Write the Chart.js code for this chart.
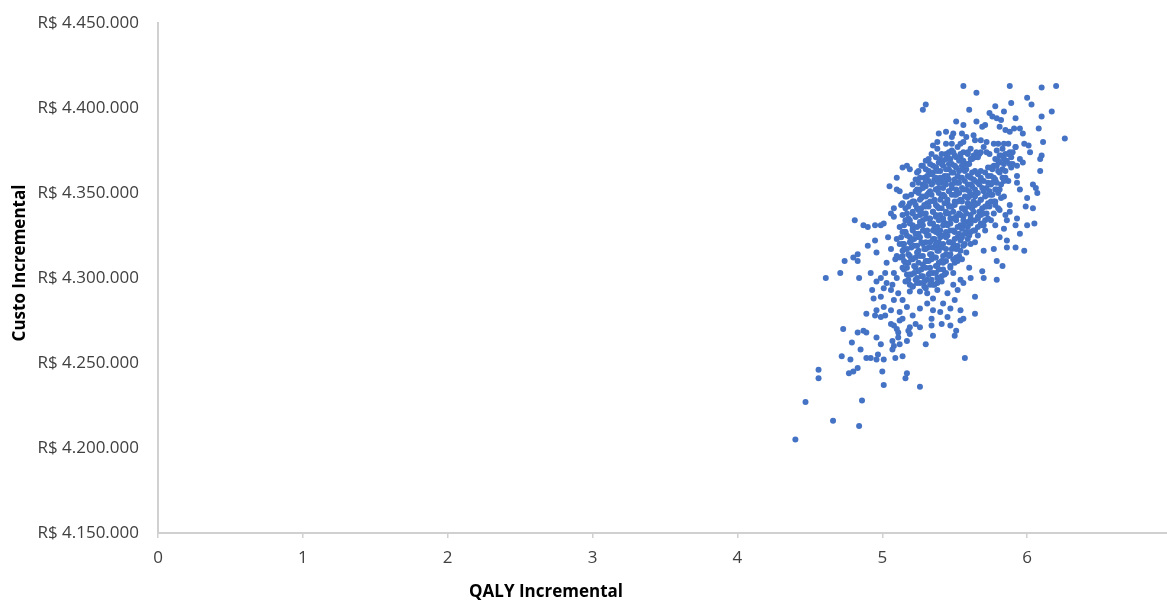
<!DOCTYPE html>
<html lang="pt-BR">
<head>
<meta charset="utf-8">
<title>Custo incremental x QALY incremental</title>
<script src="https://cdn.jsdelivr.net/npm/chart.js@4.4.1/dist/chart.umd.min.js"></script>
<style>
  html, body { margin: 0; padding: 0; background: #fff; overflow: hidden; }
  #grafico { display: block; }
</style>
</head>
<body>
<canvas id="grafico" width="1180" height="600"></canvas>
<script>
// Simulações da análise probabilística: [QALY incremental, custo incremental em milhares de R$]
const simulacoes = [
  // núcleo denso da nuvem
  [5.38,4376],[5.44,4373],[5.48,4375],[5.52,4377],[5.56,4374],[5.61,4376],[5.65,4374],[5.70,4377],[5.74,4373],[5.79,4375],[5.83,4376],[5.88,4374],[5.92,4377],
  [5.41,4373],[5.46,4374],[5.50,4372],[5.54,4373],[5.59,4374],[5.63,4372],[5.67,4373],[5.72,4374],[5.81,4372],[5.85,4373],[5.90,4374],
  [5.34,4373],[5.40,4370],[5.45,4372],[5.49,4374],[5.54,4371],[5.59,4373],[5.64,4371],[5.68,4374],[5.78,4370],[5.82,4372],[5.87,4373],
  [5.32,4370],[5.37,4371],[5.42,4369],[5.47,4370],[5.51,4371],[5.56,4369],[5.61,4370],[5.66,4371],[5.80,4369],[5.84,4370],[5.89,4371],
  [5.30,4369],[5.35,4366],[5.39,4368],[5.44,4370],[5.48,4367],[5.53,4369],[5.57,4367],[5.62,4370],[5.77,4366],[5.81,4368],[5.86,4369],[5.90,4367],
  [5.28,4366],[5.33,4367],[5.37,4365],[5.42,4366],[5.46,4367],[5.51,4365],[5.55,4366],[5.60,4367],[5.75,4365],[5.79,4366],[5.84,4367],[5.89,4365],
  [5.27,4366],[5.32,4363],[5.37,4365],[5.41,4367],[5.46,4364],[5.50,4366],[5.55,4364],[5.59,4367],[5.64,4363],[5.73,4365],[5.78,4366],[5.83,4364],[5.88,4367],
  [5.25,4363],[5.30,4364],[5.35,4362],[5.40,4363],[5.44,4364],[5.49,4362],[5.53,4363],[5.58,4364],[5.62,4362],[5.68,4363],[5.76,4364],[5.81,4362],[5.85,4363],
  [5.24,4362],[5.29,4359],[5.34,4361],[5.38,4363],[5.43,4360],[5.48,4362],[5.52,4360],[5.57,4363],[5.61,4359],[5.66,4361],[5.71,4362],[5.75,4360],[5.80,4363],[5.85,4359],
  [5.26,4359],[5.31,4360],[5.36,4358],[5.40,4359],[5.45,4360],[5.50,4358],[5.54,4359],[5.59,4360],[5.63,4358],[5.68,4359],[5.73,4360],[5.78,4358],[5.83,4359],
  [5.23,4358],[5.28,4355],[5.32,4357],[5.37,4359],[5.41,4356],[5.46,4358],[5.50,4356],[5.55,4359],[5.59,4355],[5.64,4357],[5.68,4358],[5.73,4356],[5.77,4359],[5.82,4355],[5.87,4357],
  [5.25,4356],[5.30,4357],[5.34,4355],[5.39,4356],[5.43,4357],[5.48,4355],[5.52,4356],[5.57,4357],[5.61,4355],[5.66,4356],[5.70,4357],[5.75,4355],[5.79,4356],[5.84,4357],
  [5.21,4355],[5.26,4352],[5.30,4354],[5.35,4356],[5.39,4353],[5.44,4355],[5.48,4353],[5.53,4356],[5.58,4352],[5.62,4354],[5.67,4355],[5.72,4353],[5.76,4356],[5.81,4352],
  [5.24,4352],[5.28,4353],[5.33,4351],[5.37,4352],[5.42,4353],[5.46,4351],[5.51,4352],[5.55,4353],[5.60,4351],[5.64,4352],[5.69,4353],[5.74,4351],[5.78,4352],
  [5.23,4351],[5.28,4348],[5.32,4350],[5.37,4352],[5.42,4349],[5.46,4351],[5.51,4349],[5.56,4352],[5.60,4348],[5.65,4350],[5.70,4351],[5.75,4349],[5.79,4352],[5.84,4348],
  [5.20,4349],[5.25,4350],[5.30,4348],[5.34,4349],[5.39,4350],[5.43,4348],[5.48,4349],[5.53,4350],[5.57,4348],[5.62,4349],[5.66,4350],[5.71,4348],[5.76,4349],[5.80,4350],
  [5.17,4348],[5.22,4345],[5.27,4347],[5.31,4349],[5.36,4346],[5.41,4348],[5.45,4346],[5.50,4349],[5.55,4345],[5.59,4347],[5.64,4348],[5.68,4346],[5.73,4349],[5.78,4345],[5.82,4347],
  [5.21,4345],[5.26,4346],[5.31,4344],[5.36,4345],[5.40,4346],[5.45,4344],[5.50,4345],[5.54,4346],[5.59,4344],[5.63,4345],[5.68,4346],[5.73,4344],[5.77,4345],
  [5.19,4344],[5.24,4341],[5.29,4343],[5.33,4345],[5.38,4342],[5.43,4344],[5.47,4342],[5.52,4345],[5.57,4341],[5.61,4343],[5.66,4344],[5.71,4342],[5.75,4345],[5.80,4341],
  [5.18,4342],[5.23,4343],[5.27,4341],[5.32,4342],[5.37,4343],[5.41,4341],[5.46,4342],[5.50,4343],[5.55,4341],[5.60,4342],[5.64,4343],[5.69,4341],[5.74,4342],[5.78,4343],
  [5.16,4341],[5.21,4338],[5.25,4340],[5.30,4342],[5.35,4339],[5.39,4341],[5.44,4339],[5.48,4342],[5.53,4338],[5.57,4340],[5.62,4341],[5.67,4339],[5.72,4342],[5.77,4338],[5.81,4340],
  [5.17,4338],[5.21,4339],[5.26,4337],[5.30,4338],[5.35,4339],[5.40,4337],[5.44,4338],[5.49,4339],[5.54,4337],[5.58,4338],[5.63,4339],[5.68,4337],[5.72,4338],
  [5.14,4337],[5.19,4334],[5.23,4336],[5.28,4338],[5.32,4335],[5.37,4337],[5.42,4335],[5.46,4338],[5.51,4334],[5.56,4336],[5.61,4337],[5.66,4335],[5.70,4338],[5.75,4334],
  [5.18,4335],[5.23,4336],[5.28,4334],[5.33,4335],[5.37,4336],[5.42,4334],[5.47,4335],[5.51,4336],[5.56,4334],[5.61,4335],[5.66,4336],[5.71,4334],
  [5.16,4334],[5.21,4331],[5.26,4333],[5.30,4335],[5.35,4332],[5.39,4334],[5.44,4332],[5.49,4335],[5.54,4331],[5.59,4333],[5.64,4334],[5.68,4332],[5.73,4335],[5.78,4331],
  [5.15,4331],[5.19,4332],[5.24,4330],[5.28,4331],[5.33,4332],[5.38,4330],[5.42,4331],[5.47,4332],[5.52,4330],[5.56,4331],[5.61,4332],[5.66,4330],[5.70,4331],
  [5.12,4330],[5.16,4327],[5.21,4329],[5.26,4331],[5.31,4328],[5.36,4330],[5.40,4328],[5.45,4331],[5.50,4327],[5.55,4329],[5.59,4330],[5.64,4328],[5.69,4331],
  [5.16,4327],[5.21,4328],[5.25,4326],[5.30,4327],[5.35,4328],[5.39,4326],[5.44,4327],[5.49,4328],[5.53,4326],[5.58,4327],[5.63,4328],
  [5.14,4327],[5.19,4324],[5.23,4326],[5.28,4328],[5.32,4325],[5.37,4327],[5.42,4325],[5.47,4328],[5.52,4324],[5.57,4326],[5.61,4327],[5.66,4325],[5.71,4328],
  [5.13,4324],[5.17,4325],[5.22,4323],[5.26,4324],[5.31,4325],[5.36,4323],[5.40,4324],[5.45,4325],[5.50,4323],[5.55,4324],[5.60,4325],
  [5.10,4323],[5.15,4320],[5.20,4322],[5.25,4324],[5.30,4321],[5.35,4323],[5.39,4321],[5.44,4324],[5.49,4320],[5.54,4322],[5.59,4323],[5.64,4321],
  [5.14,4320],[5.19,4321],[5.24,4319],[5.28,4320],[5.33,4321],[5.38,4319],[5.42,4320],[5.47,4321],[5.52,4319],[5.57,4320],
  [5.12,4320],[5.17,4317],[5.22,4319],[5.27,4321],[5.32,4318],[5.37,4320],[5.41,4318],[5.46,4321],[5.51,4317],[5.56,4319],[5.61,4320],
  [5.15,4317],[5.20,4318],[5.25,4316],[5.30,4317],[5.35,4318],[5.39,4316],[5.44,4317],[5.49,4318],[5.54,4316],
  [5.14,4316],[5.19,4313],[5.24,4315],[5.29,4317],[5.34,4314],[5.38,4316],[5.44,4314],[5.48,4317],[5.53,4313],[5.58,4315],
  [5.14,4313],[5.18,4314],[5.23,4312],[5.28,4313],[5.33,4314],[5.37,4312],[5.42,4313],[5.47,4314],[5.51,4312],
  [5.12,4312],[5.16,4309],[5.21,4311],[5.26,4313],[5.31,4310],[5.36,4312],[5.41,4310],[5.46,4313],[5.50,4309],[5.55,4311],
  [5.15,4310],[5.20,4311],[5.25,4309],[5.30,4310],[5.34,4311],[5.39,4309],[5.44,4310],[5.49,4311],
  [5.18,4309],[5.23,4306],[5.28,4308],[5.32,4310],[5.37,4307],[5.42,4309],[5.47,4307],[5.52,4310],
  [5.17,4306],[5.22,4307],[5.27,4305],[5.33,4306],[5.38,4307],[5.42,4305],[5.47,4306],
  [5.15,4305],[5.20,4302],[5.25,4304],[5.30,4306],[5.35,4303],[5.39,4305],[5.44,4303],
  [5.17,4302],[5.22,4303],[5.27,4301],[5.32,4302],[5.37,4303],[5.41,4301],
  [5.19,4302],[5.23,4299],[5.28,4301],[5.33,4303],[5.38,4300],[5.43,4302],
  [5.18,4299],[5.24,4300],[5.29,4298],[5.34,4299],[5.39,4300],
  [5.16,4298],[5.21,4295],[5.26,4297],[5.31,4299],[5.36,4296],[5.41,4298],
  [5.19,4296],[5.24,4297],[5.29,4295],[5.33,4296],[5.38,4297],
  [5.21,4295],[5.26,4292],[5.30,4294],[5.35,4296],
  // parte superior e borda direita
  [5.56,4413],[5.65,4409],[5.88,4413],[6.10,4412],[6.20,4413],[5.30,4402],[5.28,4399],[6.00,4406],[6.03,4402],[5.89,4403],
  [5.60,4399],[5.78,4401],[5.84,4398],[5.74,4397],[5.76,4395],[5.92,4394],[6.10,4395],[6.17,4398],[6.26,4382],[5.51,4392],
  [5.56,4390],[5.65,4392],[5.69,4389],[5.71,4390],[5.82,4393],[5.79,4394],[5.81,4389],[5.85,4387],[5.88,4386],[5.91,4388],
  [5.95,4388],[5.97,4385],[6.08,4388],[5.44,4386],[5.39,4385],[5.49,4385],[5.55,4385],[5.58,4383],[5.63,4384],[5.48,4383],
  [5.38,4380],[5.56,4380],[5.64,4381],[5.68,4381],[5.72,4380],[5.77,4379],[5.80,4379],[5.84,4379],[5.87,4379],[5.92,4377],
  [5.98,4379],[6.01,4378],[6.11,4380],[5.35,4378],[5.44,4379],[5.48,4379],[5.54,4379],[6.02,4374],[6.10,4372],[6.09,4370],
  [6.09,4363],[5.95,4370],[5.93,4366],[5.97,4368],[5.93,4360],[5.93,4356],[6.04,4355],[6.06,4353],[6.07,4350],[6.00,4347],
  [5.95,4352],
  // borda esquerda
  [5.14,4365],[5.17,4366],[5.19,4364],[5.10,4359],[5.05,4354],[5.10,4352],[5.12,4351],[5.16,4348],[5.14,4344],
  [4.81,4334],[4.87,4331],[4.90,4330],[4.99,4331],[5.01,4332],[5.06,4338],[5.08,4341],[5.13,4343],[5.04,4324],[4.95,4322],
  [4.90,4319],[4.96,4315],[4.83,4314],[4.80,4312],[4.74,4310],[4.83,4310],[5.06,4317],[5.03,4309],[5.09,4311],[4.71,4303],
  [4.61,4300],[4.84,4300],[4.92,4303],[4.99,4300],[5.02,4303],[4.96,4298],[5.03,4297],[5.08,4303],[4.93,4293],[5.01,4294],
  [5.06,4293],[4.94,4288],[4.99,4289],[4.89,4279],[4.95,4278],[4.99,4277],[5.01,4283],[5.06,4281],[5.08,4287],[5.11,4291],
  [5.14,4287],[4.73,4270],[5.06,4273],[5.12,4275],[5.19,4271],[5.10,4270],[4.95,4331],[5.10,4313],[5.07,4296],[5.10,4300],
  [5.14,4306],[5.08,4336],
  // faixa inferior do núcleo
  [5.19,4292],[5.31,4291],[5.38,4293],[5.45,4291],[5.52,4293],[5.64,4289],[5.64,4279],[5.54,4281],[5.47,4282],[5.40,4280],
  [5.35,4281],[5.31,4285],[5.26,4282],[5.21,4278],[5.17,4283],[5.12,4280],[5.14,4276],[5.08,4272],[5.23,4273],[5.26,4271],
  [5.34,4272],[5.41,4273],[5.47,4272],[5.54,4275],[5.34,4276],[5.45,4277],[5.11,4268],[5.19,4267],[4.87,4269],[4.96,4281],
  [5.02,4278],
  // lado direito, meio
  [5.99,4342],[6.04,4341],[5.93,4335],[6.00,4331],[6.05,4332],[5.92,4331],[5.95,4326],[5.81,4324],[5.86,4322],[5.92,4318],
  [5.98,4316],[5.77,4317],[5.79,4310],[5.83,4307],[5.70,4316],[5.69,4304],[5.70,4300],[5.79,4299],[5.60,4306],[5.54,4299],
  [5.49,4296],[5.56,4276],[5.42,4285],[5.35,4288],[5.50,4287],[5.56,4297],[5.49,4303],[5.61,4300],[5.86,4318],[5.85,4337],
  [5.88,4343],[5.86,4334],[5.84,4329],[5.88,4339],
  // cauda inferior
  [4.83,4268],[4.89,4268],[4.96,4265],[4.79,4262],[4.85,4258],[4.99,4261],[5.07,4263],[5.11,4265],[5.08,4260],[5.07,4258],
  [5.12,4261],[5.17,4263],[5.18,4269],[5.30,4261],[4.72,4254],[4.78,4252],[4.89,4253],[4.92,4253],[4.97,4255],[4.96,4252],
  [5.01,4252],[5.09,4253],[5.14,4254],[4.56,4246],[4.56,4241],[4.77,4244],[4.80,4245],[4.83,4247],[5.00,4245],[5.17,4244],
  [5.16,4241],[5.01,4237],[5.26,4236],[4.47,4227],[4.86,4228],[4.66,4216],[4.84,4213],[4.40,4205],[5.50,4266],[5.51,4269],
  [5.35,4266],[5.57,4253]
];

const tituloX = 'QALY Incremental';
const tituloY = 'Custo Incremental';
const limitesX = [0, 7];
const limitesY = [4150000, 4450000];
const passoY = 50000;

const formatarReais = (v) => 'R$ ' + String(v).replace(/\B(?=(\d{3})+(?!\d))/g, '.');

// títulos dos eixos desenhados à mão para ficarem na mesma posição do Excel
const titulosEixos = {
  id: 'titulosEixos',
  afterDraw(chart) {
    const { ctx } = chart;
    ctx.save();
    ctx.fillStyle = '#000';
    ctx.font = 'bold 17px "Open Sans"';
    ctx.textAlign = 'center';
    ctx.textBaseline = 'middle';
    ctx.fillText(tituloX, 546, 592);
    ctx.translate(20, 263);
    ctx.rotate(-Math.PI / 2);
    ctx.fillText(tituloY, 0, 0);
    ctx.restore();
  }
};

const ctx = document.getElementById('grafico').getContext('2d');

const config = {
  type: 'scatter',
  data: {
    datasets: [{
      label: 'Simulações',
      data: simulacoes.map(([q, c]) => ({ x: q, y: c * 1000 })),
      backgroundColor: '#4472C4',
      borderWidth: 0,
      pointRadius: 3,
      pointHoverRadius: 3
    }]
  },
  options: {
    responsive: false,
    animation: false,
    layout: { padding: { top: 23, right: 8, left: 0, bottom: 0 } },
    plugins: {
      legend: { display: false },
      tooltip: { enabled: false }
    },
    scales: {
      x: {
        type: 'linear',
        min: limitesX[0],
        max: limitesX[1],
        afterFit: (scale) => {
          scale.height = 67;
          scale.paddingLeft = 0;
          scale.paddingRight = 0;
        },
        ticks: {
          stepSize: 1,
          padding: 10,
          color: '#404040',
          font: { family: 'Open Sans', size: 17 }
        },
        grid: { drawOnChartArea: false, drawTicks: true, tickLength: 5, color: '#d0d0d0', lineWidth: 1.5 },
        border: { display: true, color: '#d0d0d0', width: 2 }
      },
      y: {
        type: 'linear',
        min: limitesY[0],
        max: limitesY[1],
        afterFit: (scale) => {
          scale.width = 158;
          scale.paddingTop = 0;
          scale.paddingBottom = 0;
        },
        ticks: {
          stepSize: passoY,
          padding: 19,
          color: '#404040',
          font: { family: 'Open Sans', size: 17 },
          callback: (v) => formatarReais(v)
        },
        grid: { drawOnChartArea: false, drawTicks: false },
        border: { display: true, color: '#d0d0d0', width: 2 }
      }
    }
  },
  plugins: [titulosEixos]
};

var grafico = new Chart(ctx, config);
</script>
</body>
</html>
